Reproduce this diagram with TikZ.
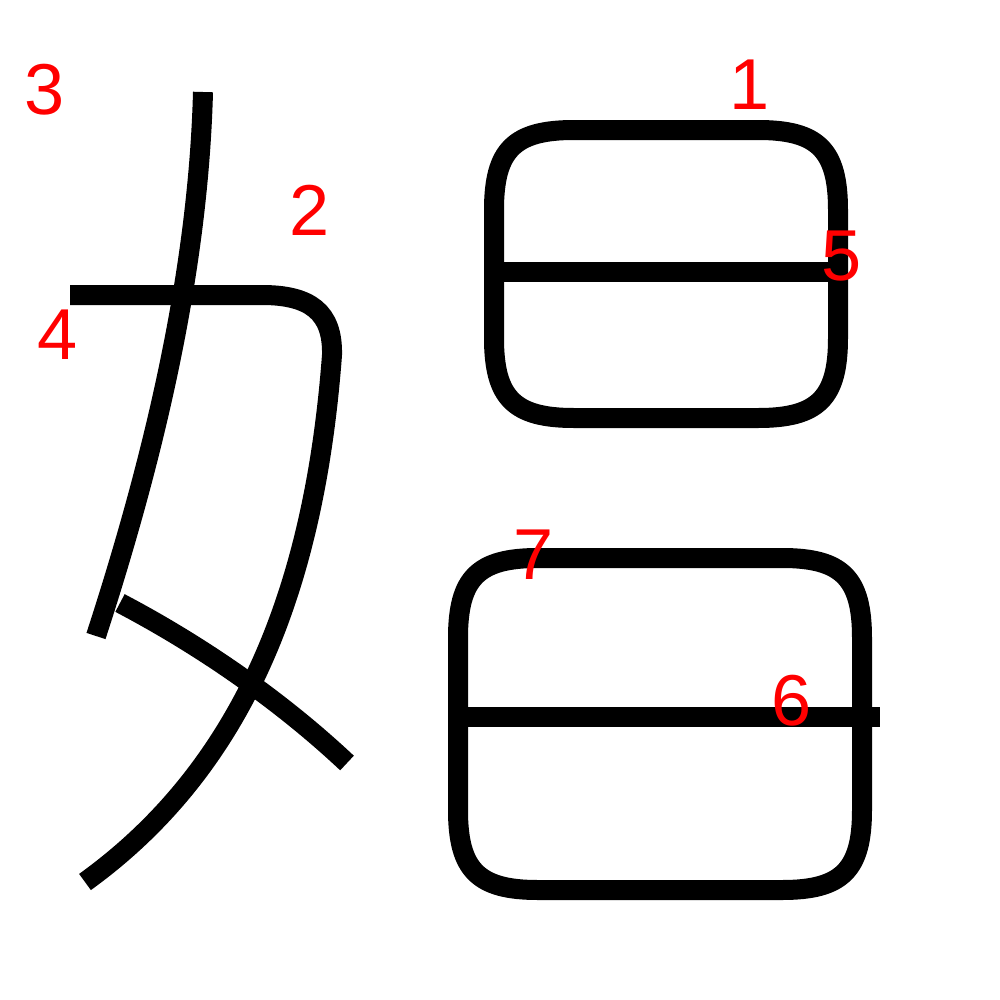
\documentclass[tikz,border=0pt]{standalone}
\usepackage{fontspec}
\setmainfont{Liberation Sans}

% soft-cornered box: left, top, right, bottom, corner size
\newcommand{\softbox}[5]{%
    (#1,#2+#5) .. controls (#1,#2+0.25*#5) and (#1+0.25*#5,#2) .. (#1+#5,#2)
    -- (#3-#5,#2) .. controls (#3-0.25*#5,#2) and (#3,#2+0.25*#5) .. (#3,#2+#5)
    -- (#3,#4-#5) .. controls (#3,#4-0.25*#5) and (#3-0.25*#5,#4) .. (#3-#5,#4)
    -- (#1+#5,#4) .. controls (#1+0.25*#5,#4) and (#1,#4-0.25*#5) .. (#1,#4-#5)
    -- cycle}

\begin{document}
\begin{tikzpicture}[
    x=0.01cm,
    y=-0.01cm,
    line cap=butt,
    line join=round,
    brush/.style={
        line width=20*0.01cm,
        draw=black
    },
    order/.style={
        text=red,
        font=\fontsize{20.5}{24}\selectfont,
        inner sep=0pt
    }
]
    % Canvas
    \useasboundingbox (0,0) rectangle (1000,1000);

    % Box geometry
    \def\boxr{80}
    \pgfmathsetmacro{\uL}{494}
    \pgfmathsetmacro{\uR}{838}
    \pgfmathsetmacro{\uT}{130}
    \pgfmathsetmacro{\uB}{418}
    \pgfmathsetmacro{\lL}{458}
    \pgfmathsetmacro{\lR}{862}
    \pgfmathsetmacro{\lT}{558}
    \pgfmathsetmacro{\lB}{890}

    % Left part
    \draw[brush] (203,92) .. controls (198,280) and (150,470) .. (96,636);
    \draw[brush] (70,295) -- (262,295)
        .. controls (310,295) and (333,312) .. (332,355)
        .. controls (314,595) and (240,770) .. (85,882);
    \draw[brush] (120,603) .. controls (200,645) and (280,700) .. (347,763);

    % Upper box
    \draw[brush] \softbox{\uL}{\uT}{\uR}{\uB}{\boxr};
    \draw[brush] (\uL,272) -- (830,272);

    % Lower box
    \draw[brush] \softbox{\lL}{\lT}{\lR}{\lB}{\boxr};
    \draw[brush] (\lL,717) -- (880,717);

    % Stroke order numbers
    \node[order] (n1) at (750,85) {1};
    \node[order] (n2) at (310,210) {2};
    \node[order] (n3) at (45,90) {3};
    \node[order] (n4) at (58,335) {4};
    \node[order] (n5) at (842,256) {5};
    \node[order] (n6) at (792,701) {6};
    \node[order] (n7) at (534,555) {7};
\end{tikzpicture}
\end{document}
